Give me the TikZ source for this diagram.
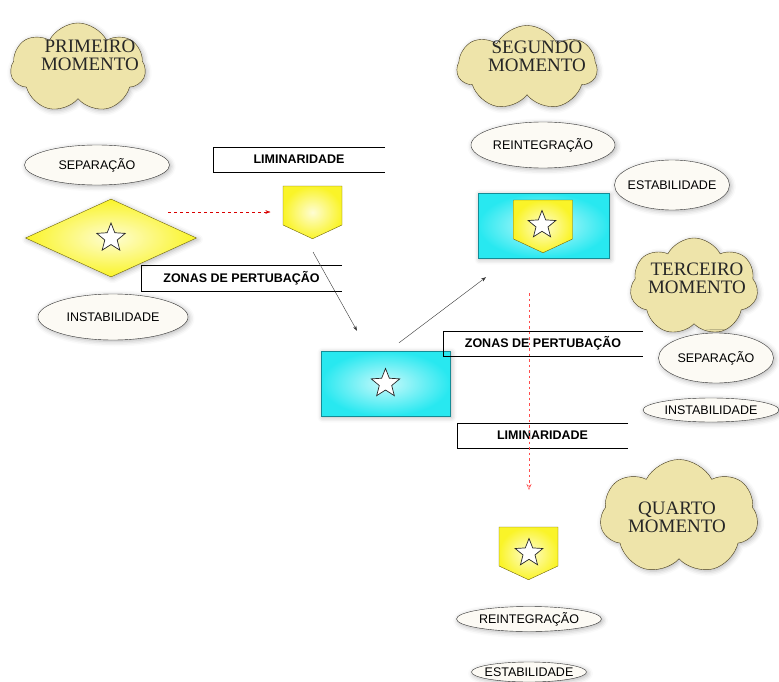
\documentclass[tikz,border=0pt]{standalone}
\usepackage{fontspec}
\setmainfont{Liberation Sans}
\newfontfamily\cloudfont{Liberation Serif}
\usetikzlibrary{shapes.geometric,shapes.symbols,arrows.meta,shadows.blur}
\definecolor{cloudtan}{RGB}{238,228,170}
\definecolor{cloudline}{RGB}{70,60,30}
\definecolor{eggshell}{RGB}{252,250,244}
\definecolor{aqua}{RGB}{40,232,240}
\definecolor{aqualine}{RGB}{20,140,150}
\definecolor{lemon}{RGB}{250,244,40}
\definecolor{lemonline}{RGB}{110,100,10}

\begin{document}
\begin{tikzpicture}[x=1pt,y=-1pt,
  every node/.style={inner sep=0pt},
  soft/.style={blur shadow={shadow xshift=1.5pt,shadow yshift=-1.5pt,shadow blur radius=5pt,shadow opacity=30}},
  momento/.style={cloud,cloud puffs=7,cloud puff arc=125,cloud ignores aspect,draw=cloudline,fill=cloudtan,soft},
  momtext/.style={font=\cloudfont\fontsize{19}{18}\selectfont,align=center,text=black!85},
  fase/.style={ellipse,draw=black!80,fill=eggshell,inner xsep=-8pt,inner ysep=-3pt,font=\fontsize{12.5}{14}\selectfont,soft},
  faixa/.style={font=\bfseries\fontsize{12.5}{14}\selectfont},
  losango/.style={diamond,draw=lemonline,inner color=lemon!20,outer color=lemon,soft},
  caixa/.style={rectangle,draw=aqualine,inner color=aqua!25,outer color=aqua,soft},
  escudo/.style={signal,signal to=south,signal from=nowhere,signal pointer angle=130,draw=lemonline,inner color=lemon!20,outer color=lemon,minimum width=59pt,minimum height=39pt},
  estrela/.style={star,star points=5,star point ratio=2.3,minimum size=30pt,draw=black!85,line width=0.7pt,fill=white},
  seta/.style={-{Stealth[length=5pt,width=3.5pt]},black!80},
  setavermelha/.style={-{Stealth[length=5pt,width=3.5pt]},red!85!black,dash pattern=on 3pt off 3pt}]
  \useasboundingbox (0,0) rectangle (779,682);
  \node[momento,minimum width=135pt,minimum height=90pt] (m1) at (78,68) {};
  \node[momtext] (t1) at (90,55) {PRIMEIRO\\MOMENTO};
  \node[momento,minimum width=140pt,minimum height=85pt] (m2) at (527,68) {};
  \node[momtext] (t2) at (537,56) {SEGUNDO\\MOMENTO};
  \node[momento,minimum width=128pt,minimum height=98pt] (m3) at (694,287) {};
  \node[momtext] (t3) at (697,278) {TERCEIRO\\MOMENTO};
  \node[momento,minimum width=158pt,minimum height=115pt] (m4) at (679,517) {};
  \node[momtext] (t4) at (677,517) {QUARTO\\MOMENTO};
  \node[fase,minimum width=145pt,minimum height=40pt] (sep1) at (97,165) {SEPARAÇÃO};
  \node[fase,minimum width=150pt,minimum height=46pt] (ins1) at (113,317) {INSTABILIDADE};
  \node[fase,minimum width=144pt,minimum height=46pt] (rei1) at (543,145) {REINTEGRAÇÃO};
  \node[fase,minimum width=115pt,minimum height=50pt] (est1) at (672,185) {ESTABILIDADE};
  \node[fase,minimum width=115pt,minimum height=50pt] (sep2) at (716,358) {SEPARAÇÃO};
  \node[fase,minimum width=136pt,minimum height=24pt] (ins2) at (711,410) {INSTABILIDADE};
  \node[fase,minimum width=145pt,minimum height=25pt] (rei2) at (529,619) {REINTEGRAÇÃO};
  \node[fase,minimum width=115pt,minimum height=20pt] (est2) at (529,672) {ESTABILIDADE};
  \node[losango,minimum width=171pt,minimum height=78pt] (los) at (111,238) {};
  \node[estrela] (st1) at (los) {};
  \node[caixa,minimum width=131pt,minimum height=65pt] (cx1) at (543.5,225.5) {};
  \node[caixa,minimum width=129pt,minimum height=65pt] (cx2) at (385.5,383.5) {};
  \node[estrela] (st2) at (cx2) {};
  \node[escudo] (esc1) at (312.5,205.5) {};
  \node[escudo] (esc2) at (543,219.5) {};
  \node[estrela,minimum size=29pt] (st3) at (542,225) {};
  \node[escudo] (esc3) at (528.5,546.5) {};
  \node[estrela,minimum size=29pt] (st4) at (529,553) {};
  \node[faixa,minimum width=172pt,minimum height=25pt] (lim1) at (299,159.5) {LIMINARIDADE};
  \draw (lim1.north east) -- (lim1.north west) -- (lim1.south west) -- (lim1.south east);
  \node[faixa,minimum width=201pt,minimum height=26pt] (zon1) at (241.5,278) {ZONAS DE PERTUBAÇÃO};
  \draw (zon1.north east) -- (zon1.north west) -- (zon1.south west) -- (zon1.south east);
  \node[faixa,minimum width=200pt,minimum height=25pt] (zon2) at (543,343.5) {ZONAS DE PERTUBAÇÃO};
  \draw (zon2.north east) -- (zon2.north west) -- (zon2.south west) -- (zon2.south east);
  \node[faixa,minimum width=171pt,minimum height=25pt] (lim2) at (542.5,435.5) {LIMINARIDADE};
  \draw (lim2.north east) -- (lim2.north west) -- (lim2.south west) -- (lim2.south east);
  \draw[setavermelha] ([shift={(57,-26)}]los.center) -- ([shift={(-42,6.5)}]esc1.center);
  \draw[seta] ([shift={(0.5,46.5)}]esc1.center) -- ([shift={(-28.5,-20)}]cx2.north);
  \draw[seta] ([shift={(13.5,-8)}]cx2.north) -- ([shift={(-57.5,19)}]cx1.south);
  \coordinate (v1) at (529,293);
  \coordinate (v2) at (529,490);
  \draw[setavermelha,red!70,-{Stealth[open,length=6pt,width=5pt]},dash pattern=on 2.5pt off 3pt] (v1) -- (v2);
\end{tikzpicture}
\end{document}
